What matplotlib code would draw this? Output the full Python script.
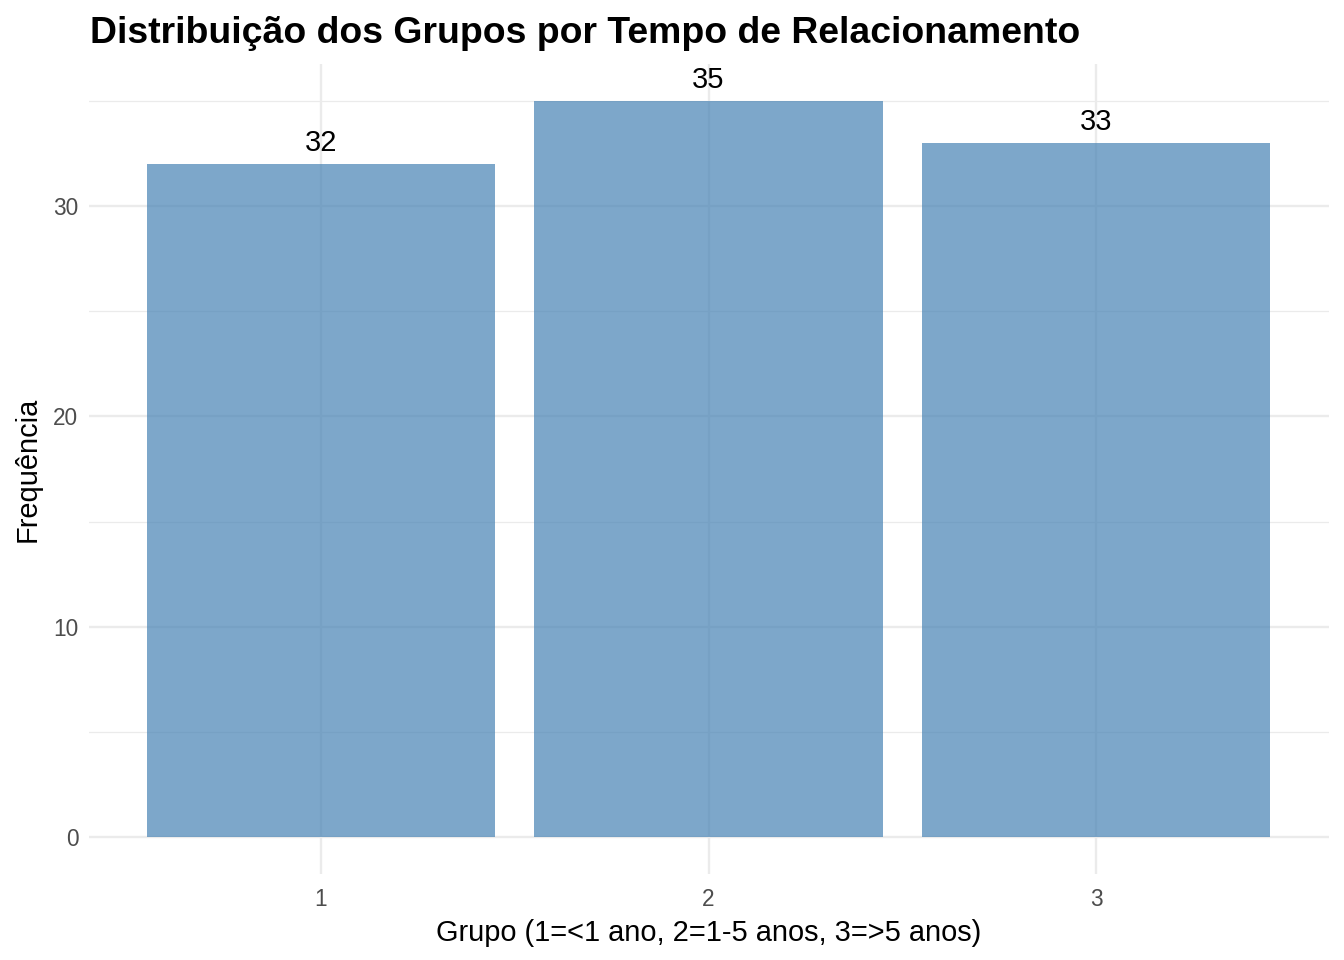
import numpy as np
import matplotlib
matplotlib.use('Agg')
import matplotlib.pyplot as plt
from matplotlib.ticker import MultipleLocator

plt.rcParams['font.family'] = ['Liberation Sans', 'DejaVu Sans']

# data
grupos = ['1', '2', '3']
frequencia = [32, 35, 33]

titulo = 'Distribuição dos Grupos por Tempo de Relacionamento'
xlab = 'Grupo (1=<1 ano, 2=1-5 anos, 3=>5 anos)'
ylab = 'Frequência'

fig = plt.figure(figsize=(1344 / 144, 960 / 144), dpi=144)
ax = fig.add_axes([88.5 / 1344, 1 - 874 / 960, 1240 / 1344, 810 / 960])

x = np.arange(1, len(grupos) + 1)
ax.bar(x, frequencia, width=0.9, color='steelblue', alpha=0.7, zorder=3)

for xi, v in zip(x, frequencia):
    ax.annotate(str(v), (xi, v), xytext=(0, 3.5), textcoords='offset points',
                ha='center', va='bottom', fontsize=14.5, color='black', zorder=4)

ymax = max(frequencia)
ax.set_xlim(0.4, len(grupos) + 0.6)
ax.set_ylim(-0.05 * ymax, 1.05 * ymax)
ax.set_xticks(x)
ax.set_xticklabels(grupos)
ax.yaxis.set_major_locator(MultipleLocator(10))
ax.yaxis.set_minor_locator(MultipleLocator(5))

ax.grid(which='major', axis='both', color='#EBEBEB', linewidth=1.2, zorder=0)
ax.grid(which='minor', axis='y', color='#EBEBEB', linewidth=0.6, zorder=0)
ax.set_axisbelow(True)
for s in ax.spines.values():
    s.set_visible(False)
ax.tick_params(which='both', length=0, labelsize=11.3, labelcolor='#4D4D4D', pad=5)
ax.tick_params(axis='x', pad=7)

ax.set_xlabel(xlab, fontsize=14.5, color='black', labelpad=4)
ax.set_ylabel(ylab, fontsize=14.5, color='black', labelpad=6)

fig.text(90 / 1344, 1 - 43 / 960, titulo, fontsize=18.7, fontweight='bold',
         ha='left', va='baseline', color='black')

fig.savefig('out.png', dpi=144, facecolor='white')
